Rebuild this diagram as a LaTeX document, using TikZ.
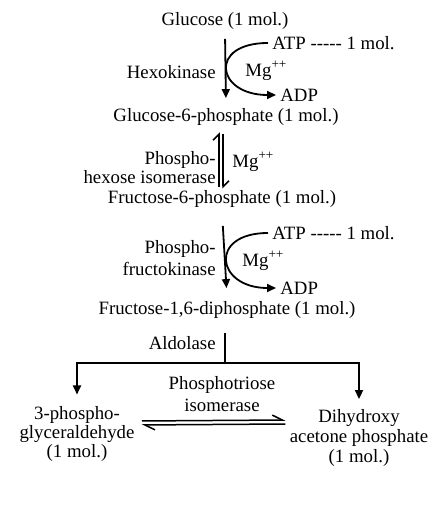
\documentclass[tikz,border=0pt]{standalone}
\usepackage{fontspec}
\setmainfont{Liberation Serif}
\usetikzlibrary{arrows.meta}

\begin{document}
\begin{tikzpicture}[x=0.5pt,y=-0.5pt,
        every node/.style={font=\fontsize{9.4}{11}\selectfont, inner sep=2pt},
        chemnode/.style={align=center},
        enzyme/.style={anchor=east, align=right},
        sidenode/.style={anchor=west},
        arr/.style={line width=0.9pt, -{Triangle[length=4.5pt,width=4pt]}},
        harp/.style={line width=0.75pt, -{Straight Barb[left,length=3pt,width=6pt]}},
        harph/.style={line width=0.75pt, -{Straight Barb[left,length=5pt,width=5pt]}}]
        \useasboundingbox (0,0) rectangle (447,506);
        % main chain
        \node[chemnode] (glu) at (225,21) {Glucose (1 mol.)};
        \node[chemnode] (g6p) at (226,117) {Glucose-6-phosphate (1 mol.)};
        \node[chemnode] (f6p) at (222,199) {Fructose-6-phosphate (1 mol.)};
        \node[chemnode] (f16bp) at (227,310) {Fructose-1,6-diphosphate (1 mol.)};
        \node[chemnode, font=\fontsize{9.4}{9.3}\selectfont] (gap) at (77,434) {3-phospho-\\glyceraldehyde\\(1 mol.)};
        \node[chemnode, font=\fontsize{9.4}{10}\selectfont] (dhap) at (359,438) {Dihydroxy\\acetone phosphate\\(1 mol.)};
        % enzymes
        \node[enzyme] (hexo) at (220,72) {Hexokinase};
        \node[enzyme, font=\fontsize{9.4}{7.8}\selectfont] (phi) at (220,168) {Phospho-\\hexose isomerase};
        \node[enzyme, font=\fontsize{9.4}{11}\selectfont] (pfk) at (220,258) {Phospho-\\fructokinase};
        \node[enzyme] (ald) at (220,343) {Aldolase};
        \node[chemnode] (pti) at (222,394) {Phosphotriose\\isomerase};
        % cofactors
        \node[sidenode] (atp1) at (268,43) {ATP -{}-{}-{}-{}- 1 mol.};
        \node[sidenode] (mg1) at (241,71) {Mg\textsuperscript{++}};
        \node[sidenode] (adp1) at (276,95) {ADP};
        \node[sidenode] (mg2) at (228,162) {Mg\textsuperscript{++}};
        \node[sidenode] (atp2) at (268,233) {ATP -{}-{}-{}-{}- 1 mol.};
        \node[sidenode] (mg3) at (238,261) {Mg\textsuperscript{++}};
        \node[sidenode] (adp2) at (276,288) {ADP};
        \coordinate (fork) at (225,363);
        % arrows
        \draw[arr, shorten <=2.5pt, shorten >=3pt] (glu.south) -- (g6p.north);
        \draw[arr] (atp1.west) .. controls +(-60,0) and +(-60,0) .. (adp1.west);
        \draw[harp, shorten <=-0.5pt, shorten >=1.25pt] ([xshift=-3.5pt]g6p.south |- f6p.north) -- ([xshift=-3.5pt]g6p.south);
        \draw[harp, shorten <=2.25pt, shorten >=-1.25pt] ([xshift=-1.5pt]g6p.south) -- ([xshift=-1.5pt]g6p.south |- f6p.north);
        \draw[arr, shorten <=7pt, shorten >=4.5pt] (f6p.south) -- (f16bp.north);
        \draw[arr] (atp2.west) .. controls +(-60,0) and +(-60,0) .. (adp2.west);
        \draw[line width=0.9pt, shorten <=5pt] (f16bp.south -| fork) -- (fork);
        \draw[arr, shorten >=4pt] (fork) -| (gap.north);
        \draw[arr, shorten >=3pt] (fork) -| (dhap.north);
        \draw[harph, shorten <=1.5pt] ([yshift=6.5pt]gap.east) -- ([yshift=9pt]dhap.west);
        \draw[harph, shorten >=1.5pt] ([yshift=7pt]dhap.west) -- ([yshift=4.5pt]gap.east);
\end{tikzpicture}
\end{document}
